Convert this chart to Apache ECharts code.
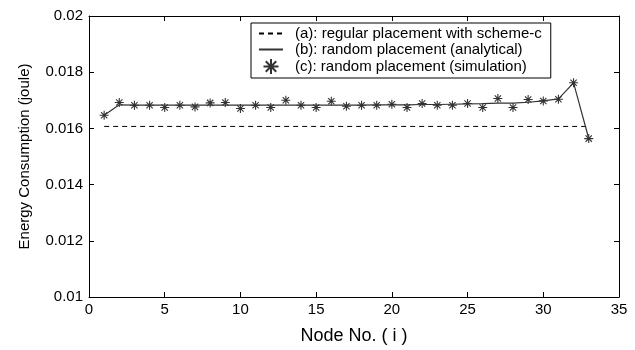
<!DOCTYPE html>
<html><head><meta charset="utf-8">
<script src="https://cdn.jsdelivr.net/npm/echarts@6/dist/echarts.min.js"></script>
<style>html,body{margin:0;padding:0;background:#fff}#c{width:635px;height:350px}</style>
</head><body><div id="c"></div>
<script>
const nodes = [1,2,3,4,5,6,7,8,9,10,11,12,13,14,15,16,17,18,19,20,21,22,23,24,25,26,27,28,29,30,31,32,33];
const simulation = [0.01647,0.01692,0.016825,0.016825,0.016744,0.016825,0.016766,0.016907,0.01692,0.016709,0.016825,0.016744,0.017002,0.016825,0.016744,0.016966,0.01679,0.016825,0.016825,0.01686,0.016744,0.016884,0.016825,0.016825,0.016884,0.016744,0.017062,0.016744,0.017026,0.016978,0.017037,0.017626,0.015637];
const analytical = [0.01647,0.01684,0.01683,0.01683,0.01683,0.01683,0.01683,0.01683,0.01683,0.01683,0.01683,0.01683,0.01683,0.01683,0.01683,0.01683,0.01683,0.01683,0.01684,0.01684,0.01684,0.01685,0.01685,0.01686,0.01687,0.01688,0.01690,0.01690,0.01693,0.01698,0.01705,0.01762,0.01564];
const regularX = [1,33];
const regularY = [0.01607,0.01607];
const xTicks = {min:0,max:35,interval:5};
const yTicks = {min:0.01,max:0.02,interval:0.002};
const names = ['(a): regular placement with scheme-c','(b): random placement (analytical)','(c): random placement (simulation)'];

const font = 'Liberation Sans, Arial, Helvetica, sans-serif';
const chart = echarts.init(document.getElementById('c'));
const star = 'path://M0,-1L0,1M-1,0L1,0M-0.7,-0.7L0.7,0.7M-0.7,0.7L0.7,-0.7';
const clear = 'rgba(0,0,0,0)';
const axisCommon = {
  axisLine:{show:true,onZero:false,lineStyle:{color:'#000',width:1}},
  axisTick:{show:true,inside:true,length:5,lineStyle:{color:'#000'}},
  splitLine:{show:false}
};
chart.setOption({
  animation:false,
  backgroundColor:'#fff',
  grid:{left:89,right:16,top:16,bottom:50,show:false},
  legend:{
    orient:'vertical',left:251,top:23,
    backgroundColor:'#fff',borderColor:'#000',borderWidth:1,borderRadius:0,
    padding:[3,9,3,7],itemGap:1,itemWidth:24,itemHeight:15,
    textStyle:{fontFamily:font,fontSize:15,color:'#000',padding:[0,0,0,7]},
    data:names
  },
  xAxis:[
    Object.assign({type:'value',min:xTicks.min,max:xTicks.max,interval:xTicks.interval,
      name:'Node No. ( i )',nameLocation:'middle',nameGap:30,
      nameTextStyle:{fontFamily:font,fontSize:18,color:'#000'},
      axisLabel:{fontFamily:font,fontSize:15,color:'#000',margin:5}},axisCommon),
    Object.assign({type:'value',position:'top',min:xTicks.min,max:xTicks.max,interval:xTicks.interval,
      axisLabel:{show:false}},axisCommon)
  ],
  yAxis:[
    Object.assign({type:'value',min:yTicks.min,max:yTicks.max,interval:yTicks.interval,
      name:'Energy Consumption (joule)',nameLocation:'middle',nameGap:57,
      nameTextStyle:{fontFamily:font,fontSize:15,color:'#000'},
      axisLabel:{fontFamily:font,fontSize:15,color:'#000',margin:6,
        formatter:v=>String(+v.toFixed(3))}},axisCommon),
    Object.assign({type:'value',position:'right',min:yTicks.min,max:yTicks.max,interval:yTicks.interval,
      axisLabel:{show:false}},axisCommon)
  ],
  series:[
    {name:names[0],type:'line',symbol:'circle',showSymbol:false,
      data:regularX.map((x,i)=>[x,regularY[i]]),
      lineStyle:{color:'#000',width:1,type:[5,4]},itemStyle:{color:clear,borderColor:clear}},
    {name:names[1],type:'line',symbol:'circle',showSymbol:false,
      data:nodes.map((x,i)=>[x,analytical[i]]),
      lineStyle:{color:'#333',width:1.2},itemStyle:{color:clear,borderColor:clear}},
    {name:names[2],type:'scatter',symbol:star,symbolSize:9,
      data:nodes.map((x,i)=>[x,simulation[i]]),
      itemStyle:{color:'#000',borderColor:'#000',borderWidth:1.1}}
  ]
});
</script></body></html>
